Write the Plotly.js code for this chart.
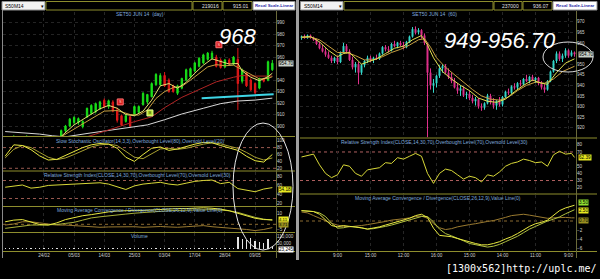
<!DOCTYPE html>
<html><head><meta charset="utf-8">
<script src="https://cdn.plot.ly/plotly-3.0.1.min.js"></script>
<style>html,body{margin:0;padding:0;background:#000;}#chart{width:600px;height:279px;}</style>
</head><body><div id="chart"></div>
<script>
// ---------- LEFT PANEL (daily) ----------
const leftIdx = [0,1,2,3,4,5,6,7,8,9,10,11,12,13,14,15,16,17,18,19,20,21,22,23,24,25,26,27,28,29,30,31,32,33,34,35,36,37,38,39,40,41,42,43,44,45,46,47,48,49,50,51,52,53,54,55,56,57,58,59,60,61,62];
const leftOpen  = [884,886,888,890,886,887,889,885,883,884,880,882,886,891,896,900,903,903,899.5,908,911,912.5,915,922.5,917,921,914,909,904,908,910,912,918.5,921,925.5,936,936,944,940,935,928.5,933,940,943,948,952,955,958,959,960,957.5,951.5,957.5,954,958,939,946,940,937,933,941,940,949];
const leftHigh  = [887,889,892,891,889,892,890,887,886,886,884,887,891,897,901,907,908.5,907.5,905,916,919,920.5,922,924,923,922.5,916,910,910,909,918,918,929.5,928,938,946,946,947,941.5,936,936,942,950,951,956,960,963,964.5,965.5,962,959,958.5,959,961,968,950,947,941.5,938,942,942,957,957.5];
const leftLow   = [881,884,886,885,883,885,884,881,880,879,878,881,885,889,894,899,901,901,898,907,910,911,914,916,915,912,903,900,903,898.5,909,911,918,919,925,935,935,934,929,929,927,932,939,942,947,951,954,957,958,951,950,950.5,953,953,914,937,934,930.5,927.5,932,938,939,948];
const leftClose = [886,888,890,886,887,889,885,883,884,880,882,886,890,896,900,906,907.5,906.5,904,915.5,918,919.5,921,917,922,913,905,901,909,900,917,917,928.5,927.5,937,945,944,935,930,930,935,941.5,949,950,955,959,962,963.5,963.5,952,951,957.5,954,960,937,949,935,931.5,929,941.5,939,956,954.7];
const leftVolume = [9000,11000,8000,12000,10000,9000,11000,13000,10000,9000,12000,11000,10000,9000,12000,10000,11000,13000,9000,10000,12000,11000,10000,9000,11000,12000,10000,13000,11000,9000,10000,12000,11000,10000,9000,11000,12000,10000,13000,11000,10000,9000,12000,11000,10000,12000,9000,11000,10000,12000,11000,13000,10000,12000,100000,88000,80000,95000,72000,62000,50000,84000,23245];
const leftDateTicks = [9,16,23,30,37,44,51,58];
const leftDateLabels = ['24/02','05/03','14/03','25/03','03/04','17/04','28/04','09/05'];
const leftPriceTicks = [900,910,920,930,940,960,970,980,990];

const lMaYx = [10,13,16,19,22,24,26,28,30,32,34,36,38,40,42,44,46,48,50,52,54,55,57,59,61,62];
const lMaY  = [886,891,901,908,915,918,915.5,910,909,913,922.5,935,937,933,938,946,953,958.5,956,954,954.5,948,942.5,939.5,943,946];
const lMaOx = [10,14,17,20,23,26,29,31,33,35,37,39,41,43,45,47,49,51,53,55,57,59,61,62];
const lMaO  = [884,893,900,906,913,913.5,910,909.5,914,924,930,933.5,934.5,940,946,951.5,953.5,952.5,953,949,944.5,941,941.5,943];
const lMaRx = [15,18,21,25,30,34,37,41,45,49,53,55,58,62];
const lMaR  = [887,889.5,893,898,903.8,908,916,925,931.5,938.5,942.5,944,943.5,943.5];
const lMaWx = [0,4,8,11,14,19,24,29,33,37,41,46,50,54,58,62];
const lMaW  = [895.2,894.3,893,891.5,890.6,893.5,896,898.5,901,905.5,910.5,915.5,919.5,921.8,922.6,924.3];
const trendX = [45.6,62.3];
const trendY = [924.2,927.7];
const sellX = [26.7,49.6], sellY = [921,970.8];
const buyX = [33.6], buyY = [911.4];

const leftInd = [0,2,4,6,8,10,12,14,16,18,20,22,24,26,28,30,32,34,36,38,40,42,44,46,48,50,52,54,56,58,60,62];
const stochK = [55,88,86,74,56,44,46,58,70,80,88,92,90,78,52,40,60,78,82,72,76,84,90,95,94,86,80,72,55,42,38,60];
const stochD = [50,75,86,80,66,52,45,50,60,72,82,88,90,86,70,52,48,62,76,78,75,78,85,90,94,91,84,78,66,52,44,50];
const rsiL   = [55,58,60,53,55,59,60,61,62,64,65,65,62,56,50,58,62,64,66,62,60,64,68,70,71,63,66,52,49,45,51,54.18];
const macdL  = [2.3,3.8,4.3,1.8,-0.2,-0.7,1.3,4.3,6.3,7.8,8.8,10.3,11.3,12.1,12.6,12.6,12.6,13.1,13.8,14.3,14.3,14.3,14.6,15,14.6,13.8,12.3,9.8,7.3,5.5,4.3,4.1];
const macdSigL = [-3.7,-2.7,-1.7,-0.7,-0.7,-0.7,-0.2,0.8,1.8,3.8,5.8,6.8,7.8,8.6,9.3,10.1,10.8,11.3,11.8,12.3,12.6,12.9,13.1,13.3,13.3,12.9,12.3,10.8,8.3,6.3,4.7,3.7];
const macdHistL = [-0.7,0.3,2.3,2.3,1.3,0.3,-0.7,-0.7,-1.2,-1.7,-2.2,-2.7,-2.4,-2.2,-1.9,-2.2,-2.7,-2.4,-2.0,-2.4,-2.7,-2.2,-1.7,-1.2,-2.2,-2.7,-3.7,-4.0,-4.7,-5.7,-4.7,-3.0];
const stochLevels = [80,20];
const rsiLevels = [70,30];
const macdLevels = [0];

// ---------- RIGHT PANEL (60 min) ----------
const rightIdx = [0,1,2,3,4,5,6,7,8,9,10,11,12,13,14,15,16,17,18,19,20,21,22,23,24,25,26,27,28,29,30,31,32,33,34,35,36,37,38,39,40,41,42,43,44,45,46,47,48,49,50,51,52,53,54,55,56,57,58,59,60,61,62,63,64,65,66,67,68,69,70,71,72,73,74,75,76,77,78,79,80,81,82,83,84,85,86,87,88,89,90,91];
const rOpen  = [962.5,963,962.5,963.5,962.5,961.5,959.5,957.5,956,954.5,953,951.5,953,951,955.5,958.5,956,952,948.5,950,946,949.5,951.5,953,952,953,952.5,955,958,957,956.5,959.5,958.5,960,959,958,960.5,963,966.5,965,966,963.5,959,946,940,941,944.5,948,949,946,944,942,939,937.5,938.5,935.5,936,934,932.5,933.5,930,929.5,931.5,935,932,930.5,932.5,931,934.5,937,936.5,939.5,939,941,940.5,943,942,944,942.5,943.5,941,939,938,942,946.5,951.5,955,952.5,954,956.5,954,955.5];
const rHigh  = [963.5,964,964,964,963,962,960.5,959,957.5,956,954,953.5,954,956,960,959.5,957,953.5,951,951,950,952,954,954,953.5,954.5,955.5,958.5,959,958.5,960,961,960.5,961,960.5,961,963.5,967.5,967.8,967,966.5,964.5,960,948,943,945,949.5,950,950,948,946,943.5,941,940,939.5,937,937.5,935.5,934.5,934,931.5,932,936,936,934,933,934.5,935,937.5,938.5,940,941,941.5,942.5,943.5,945,944.5,945,944,944,942,940.5,942.5,947,952,956,956,955,957.5,957,956.5,956];
const rLow   = [961.5,962,962,962,961,959,957,955.5,953.5,952.5,950.5,950.5,950,950.5,955,955,951.5,947.5,946,940.5,945,948.5,950.5,951,950.5,952,952,954.5,956,955.5,956,958,957.5,958.5,957,957.5,960,962.5,964,964,962,959,915.5,938,936.5,939,943.5,946,945.5,943,941,938.5,936,935,934.5,933.5,933,931.5,930.5,929,928,928.5,931,931,929,928.5,930,930,934,935.5,936,938,938,939.5,940,941.5,941,942,941,940,938,936.5,937.5,941.5,946,950.5,951.5,951,953,953,953.5,953.5];
const rClose = [963,962.5,963.5,962.5,961.5,959.5,957.5,956,954.5,953,951.5,953,951,955.5,958.5,956,952,948.5,950,946,949.5,951.5,953,952,953,952.5,955,958,957,956.5,959.5,958.5,960,959,958,960.5,963,966.5,965,966,963.5,960,946,940,941,944.5,948,949,946,944,942,939,937.5,938.5,935.5,936,934,932.5,933.5,930,929.5,931.5,935,932,930.5,932.5,931,934.5,937,936.5,939.5,939,941,940.5,943,942,944,942.5,943.5,941,939,938,942,946.5,951.5,955,952.5,954,956.5,954,955.5,954.7];
const rightTimeTicks = [12,23,34,45,56,67,78,89];
const rightTimeLabels = ['9:00','15:00','12:00','16:00','15:00','14:00','11:00','9:00'];
const rightPriceTicks = [920,925,930,935,940,945,950,960,965,970];

const rMaYx = [0,3,6,9,12,14,16,18,20,22,25,28,31,34,37,40,42,44,47,50,53,56,59,62,65,68,71,74,77,80,82,85,88,91];
const rMaY  = [962.8,963,960.5,956.5,953.5,955,955.5,952.5,950,951,952.5,955,957.5,958.5,961.5,963.5,959,953,946.5,943,940,937.5,934,932.5,932,933.5,937,940,942.5,941,940.5,946,950.5,952.5];
const rMaOx = [0,3,6,9,12,15,18,21,24,27,30,33,36,39,41,43,45,48,51,54,57,60,63,66,69,72,75,78,81,84,87,91];
const rMaO  = [962.5,962.8,961.5,958.5,955.5,955.5,954,952,952,953.5,955.5,957,959,961.5,962,958,953,948.5,945,941.5,938,935,933.5,933,934.5,937.5,940,941.5,941,943,946.5,949];

const rightInd = [0,2,4,6,8,10,12,14,16,18,20,22,24,26,28,30,32,34,36,38,40,42,44,46,48,50,52,54,56,58,60,62,64,66,68,70,72,74,76,78,80,82,84,86,88,90,91];
const rsiR = [63,65,67,52,40,34,38,52,50,40,36,45,46,48,55,54,62,60,64,68,64,40,26,40,46,44,38,32,36,34,28,38,36,42,50,54,56,60,58,55,56,50,66,71,67,68,62.39];
const macdR = [2.3,2.2,2.1,1.5,0.2,-1.0,-1.3,-1.0,-1.2,-1.3,-1.5,-1.8,-1.6,-1.3,-0.9,-0.5,-0.2,0.2,0.6,1.2,1.5,0.8,-1.6,-3.2,-3.3,-3.5,-3.9,-4.3,-4.7,-5.0,-5.3,-5.3,-5.0,-4.6,-4.0,-3.5,-2.8,-2.0,-1.2,-0.6,-0.3,0.2,1.2,2.3,2.9,3.3,3.5];
const macdSigR = [2.3,2.2,2.1,1.8,1.0,-0.5,-1.6,-1.5,-1.2,-1.3,-1.5,-1.8,-1.7,-1.5,-1.2,-0.9,-0.5,-0.1,0.3,0.6,1.0,1.0,-0.2,-1.8,-2.8,-3.3,-3.8,-4.4,-5.0,-5.3,-5.6,-5.8,-5.6,-5.2,-4.6,-4.0,-3.4,-2.6,-1.8,-1.2,-0.6,0.0,0.4,0.9,1.6,2.3,2.5];
const macdHistR = [2.0,1.8,1.2,0.6,0.0,-0.5,-0.9,-1.2,-1.3,-1.2,-1.0,-0.8,-0.6,-0.3,-0.1,0.2,0.3,0.5,0.7,1.0,1.1,0.6,-0.6,-1.5,-1.9,-1.7,-1.3,-1.0,-0.8,-0.6,-0.3,-0.1,0.1,0.4,0.8,1.2,1.4,1.5,1.3,1.1,0.9,0.6,0.7,0.8,0.8,0.7,0.7];

// ---------- helpers (positions only) ----------
const W = 600, H = 279;
const px = x => x / W;
const py = y => 1 - y / H;
const OLIVE = '#8d8d2d';
const TICKF = {size:4.6, color:'#d0d0d0', family:'Liberation Sans, Arial, sans-serif'};
const TITLEF = {size:5, color:'#7fa9dc', family:'Liberation Sans, Arial, sans-serif'};

function line(x, y, xa, ya, color, width, dash) {
  return {type:'scatter', mode:'lines', x:x, y:y, xaxis:xa, yaxis:ya,
          line:{color:color, width:width||1, dash:dash||'solid'}, hoverinfo:'skip'};
}

const traces = [
  {type:'candlestick', x:leftIdx, open:leftOpen, high:leftHigh, low:leftLow, close:leftClose,
   xaxis:'x', yaxis:'y', whiskerwidth:0,
   increasing:{line:{color:'#19e019', width:1}, fillcolor:'#19e019'},
   decreasing:{line:{color:'#e01818', width:1}, fillcolor:'#e01818'}, hoverinfo:'skip'},
  line(lMaWx, lMaW, 'x', 'y', '#d8d8d8', 1),
  line(lMaRx, lMaR, 'x', 'y', '#b02424', 1),
  line(lMaOx, lMaO, 'x', 'y', '#c8a040', 1),
  line(lMaYx, lMaY, 'x', 'y', '#e6e070', 1),
  line(trendX, trendY, 'x', 'y', '#3ed6e6', 2),
  {type:'scatter', mode:'markers+text', x:sellX, y:sellY, xaxis:'x', yaxis:'y', text:['S','S'],
   textfont:{size:4, color:'#ffd0d0'}, textposition:'middle center',
   marker:{symbol:'square', size:6, color:'#d82020', line:{color:'#ff7070', width:1}}, hoverinfo:'skip'},
  {type:'scatter', mode:'markers+text', x:buyX, y:buyY, xaxis:'x', yaxis:'y', text:['B'],
   textfont:{size:4, color:'#304000'}, textposition:'middle center',
   marker:{symbol:'square', size:6, color:'#b8e030', line:{color:'#e8ff90', width:1}}, hoverinfo:'skip'},
  line(leftInd, stochD, 'x', 'y2', '#a8a030', 1),
  line(leftInd, stochK, 'x', 'y2', '#e8e840', 1),
  line(leftInd, rsiL, 'x', 'y3', '#d8d838', 1),
  line(leftInd, macdHistL, 'x', 'y4', '#9a7a30', 1),
  line(leftInd, macdSigL, 'x', 'y4', '#a8b038', 1),
  line(leftInd, macdL, 'x', 'y4', '#e8e840', 1),
  {type:'bar', x:leftIdx, y:leftVolume, xaxis:'x', yaxis:'y5', width:0.3,
   marker:{color:'#e4e4e4', line:{width:0}}, hoverinfo:'skip'},
  {type:'candlestick', x:rightIdx, open:rOpen, high:rHigh, low:rLow, close:rClose,
   xaxis:'x2', yaxis:'y6', whiskerwidth:0,
   increasing:{line:{color:'#33d8cc', width:1}, fillcolor:'#33d8cc'},
   decreasing:{line:{color:'#e0308c', width:1}, fillcolor:'#e0308c'}, hoverinfo:'skip'},
  line(rMaOx, rMaO, 'x2', 'y6', '#c8a040', 1),
  line(rMaYx, rMaY, 'x2', 'y6', '#e0e050', 1),
  line(rightInd, rsiR, 'x2', 'y7', '#d8d838', 1),
  line(rightInd, macdHistR, 'x2', 'y8', '#9a7a30', 1),
  line(rightInd, macdSigR, 'x2', 'y8', '#b0c040', 1),
  line(rightInd, macdR, 'x2', 'y8', '#e8e840', 1)
];

function xax(domain, range, anchor, tv, tt) {
  return {domain:domain, range:range, anchor:anchor, tickmode:'array', tickvals:tv, ticktext:tt,
          tickfont:TICKF, showgrid:true, gridcolor:'#262626', griddash:'dot', zeroline:false,
          showline:false, ticks:'', rangeslider:{visible:false}, fixedrange:true};
}
function yax(domain, range, anchor, tv, tt, grid) {
  const a = {domain:domain, range:range, anchor:anchor, side:'right', tickmode:'array', tickvals:tv,
          tickfont:TICKF, showgrid:!!grid, gridcolor:'#242424', griddash:'dot', zeroline:false,
          showline:false, ticks:'', fixedrange:true};
  if (tt) a.ticktext = tt;
  return a;
}

const shapes = [];
function hline(x0, x1, y, color, w) {
  shapes.push({type:'line', xref:'paper', yref:'paper', x0:px(x0), x1:px(x1), y0:py(y), y1:py(y),
               line:{color:color, width:w||1}});
}
function vline(x, y0, y1, color, w) {
  shapes.push({type:'line', xref:'paper', yref:'paper', x0:px(x), x1:px(x), y0:py(y0), y1:py(y1),
               line:{color:color, width:w||1}});
}
function rect(x0, x1, y0, y1, fill, lc) {
  shapes.push({type:'rect', xref:'paper', yref:'paper', x0:px(x0), x1:px(x1), y0:py(y1), y1:py(y0),
               fillcolor:fill, line:{color:lc, width:1}});
}
function level(xref, yref, v, color) {
  shapes.push({type:'line', xref:xref, yref:yref, x0:0, x1:1, y0:v, y1:v, layer:'below',
               line:{color:color, width:1, dash:'dot'}});
}
stochLevels.forEach(v => level('x domain', 'y2', v, '#9a5a50'));
rsiLevels.forEach(v => level('x domain', 'y3', v, '#9a5a50'));
macdLevels.forEach(v => level('x domain', 'y4', v, '#8a6a30'));
rsiLevels.forEach(v => level('x2 domain', 'y7', v, '#b06060'));
macdLevels.forEach(v => level('x2 domain', 'y8', v, '#8a6a30'));

// separators
[136.5, 171, 206.5, 232.5, 251.5].forEach(y => hline(3, 295, y, OLIVE));
[138, 194, 251.5].forEach(y => hline(300, 597, y, OLIVE));
vline(276.5, 11, 258, '#6a6a3a');
vline(576.5, 11, 258, '#6a6a3a');
vline(2.5, 10, 258, '#8a8a8a');
vline(297.5, 0, 260, '#a0a0a0', 3);
// toolbars
rect(2, 45, 1.5, 10, '#f2f2f2', '#909090');
rect(46, 192, 1.5, 10, '#000000', OLIVE);
rect(193, 222, 1.5, 10, '#000000', OLIVE);
rect(223, 252, 1.5, 10, '#000000', OLIVE);
rect(253, 295, 1.5, 10, '#ffffff', '#909090');
rect(300.5, 343, 1.5, 10, '#f2f2f2', '#909090');
rect(344, 493, 1.5, 10, '#000000', OLIVE);
rect(494, 522, 1.5, 10, '#000000', OLIVE);
rect(523, 552, 1.5, 10, '#000000', OLIVE);
rect(553, 597, 1.5, 10, '#ffffff', '#909090');
// ellipses
shapes.push({type:'circle', xref:'paper', yref:'paper', x0:px(233), x1:px(293), y0:py(250), y1:py(123),
             line:{color:'#e6e6e6', width:1}});
shapes.push({type:'circle', xref:'paper', yref:'paper', x0:px(543), x1:px(593), y0:py(72), y1:py(42),
             line:{color:'#d8d8d8', width:1}});

const ann = [];
function txt(x, y, t, font, xa, opts) {
  ann.push(Object.assign({xref:'paper', yref:'paper', x:px(x), y:py(y), text:t, showarrow:false,
    font:font, xanchor:xa||'center', yanchor:'middle', borderpad:0}, opts||{}));
}
function vbox(x, yref, v, t, bg, fs) {
  ann.push({xref:'paper', yref:yref, x:px(x), y:v, text:t, showarrow:false, xanchor:'left', yanchor:'middle',
    bgcolor:bg, borderpad:0, font:{size:fs||4.6, color:'#000000', family:'Liberation Sans, Arial, sans-serif'}});
}
const SM = {size:5, color:'#000000', family:'Liberation Sans, Arial, sans-serif'};
const SW = {size:5, color:'#e0e0e0', family:'Liberation Sans, Arial, sans-serif'};
const BTN = {size:4.3, color:'#2a2aa8', family:'Liberation Sans, Arial, sans-serif'};
txt(4, 6, 'S50M14', SM, 'left');  txt(42, 6, '▾', SM);
txt(220, 6, '219016', SW, 'right'); txt(250, 6, '915.01', SW, 'right');
txt(274, 6, '<b>Recal Scale-Linear</b>', BTN);
txt(303, 6, 'S50M14', SM, 'left'); txt(340, 6, '▾', SM);
txt(520, 6, '237000', SW, 'right'); txt(550, 6, '936.07', SW, 'right');
txt(575, 6, '<b>Recal Scale-Linear</b>', BTN);
txt(140, 14.5, 'SET50 JUN 14  (day)', TITLEF);
txt(434, 14.5, 'SET50 JUN 14  (60)', TITLEF);
txt(140, 140.5, 'Slow Stochastic Oscillator(14,3,3),Overbought Level(80),Oversold Level(20)', TITLEF);
txt(137, 174.5, 'Relative Strength Index(CLOSE,14,30,70),Overbought Level(70),Oversold Level(30)', TITLEF);
txt(140, 210, 'Moving Average Convergence / Divergence(CLOSE,26,12,9),Value Line(0)', TITLEF);
txt(139, 236, 'Volume', TITLEF);
txt(434, 141.5, 'Relative Strength Index(CLOSE,14,30,70),Overbought Level(70),Oversold Level(30)', TITLEF);
txt(438, 197.5, 'Moving Average Convergence / Divergence(CLOSE,26,12,9),Value Line(0)', TITLEF);
txt(237, 36.5, '<i>968</i>', {size:22, color:'#ffffff', family:'Liberation Sans, Arial, sans-serif'});
txt(500, 41, '<i>949-956.70</i>', {size:22, color:'#ffffff', family:'Liberation Sans, Arial, sans-serif'});
txt(521, 268, '[1300x562]http://uplc.me/', {size:10, color:'#ffffff', family:'DejaVu Sans Mono, monospace'});
// value boxes
vbox(278, 'y', 954.7, '954.70', '#c8d0c8');
vbox(278, 'y3', 50, '54.18', '#e8e820');
vbox(278, 'y4', 4.6, '4.11', '#e8e820', 4.3);
vbox(278, 'y4', -0.2, '3.71', '#9a9020', 4.3);
vbox(278, 'y5', 2000, '23,245', '#ffffff');
vbox(578, 'y6', 954.7, '954.70', '#c8d0c8');
vbox(578, 'y7', 62.39, '62.39', '#e8e820');
vbox(578, 'y8', 4.1, '3.50', '#90e030');
vbox(578, 'y8', 2.3, '2.50', '#e8e820');
vbox(578, 'y8', 0.2, '0.70', '#9a9020');

const layout = {
  width:W, height:H, margin:{l:0, r:0, t:0, b:0, pad:0},
  paper_bgcolor:'#000000', plot_bgcolor:'#000000', showlegend:false,
  font:{family:'Liberation Sans, Arial, sans-serif', size:5, color:'#d0d0d0'},
  boxgap:0.55,
  xaxis: xax([px(3), px(276)], [-0.5, 62.85], 'y5', leftDateTicks, leftDateLabels),
  xaxis2: xax([px(300), px(576)], [-0.5, 91.5], 'y8', rightTimeTicks, rightTimeLabels),
  yaxis:  yax([py(136.5), py(12)], [890.9, 999.3], 'x', leftPriceTicks, null, true),
  yaxis2: yax([py(170.5), py(137.5)], [13.6, 109.3], 'x', [20,40,60,80,100]),
  yaxis3: yax([py(206), py(171.5)], [13.3, 90], 'x', [20,40,60,80]),
  yaxis4: yax([py(232), py(207)], [-7.0, 15.73], 'x', [-5,10]),
  yaxis5: yax([py(251.5), py(233)], [-17260, 134800], 'x', [50000,110000], ['50,000','110,000']),
  yaxis6: yax([py(137.5), py(12)], [915.4, 974.6], 'x2', rightPriceTicks, null, true),
  yaxis7: yax([py(193.5), py(138.5)], [11.8, 88.9], 'x2', [20,30,40,50,70,80]),
  yaxis8: yax([py(251.5), py(194.5)], [-6.78, 5.89], 'x2', [-6,-4,-2]),
  shapes:shapes, annotations:ann, bargap:0
};
Plotly.newPlot('chart', traces, layout, {staticPlot:true, displayModeBar:false});
</script></body></html>
